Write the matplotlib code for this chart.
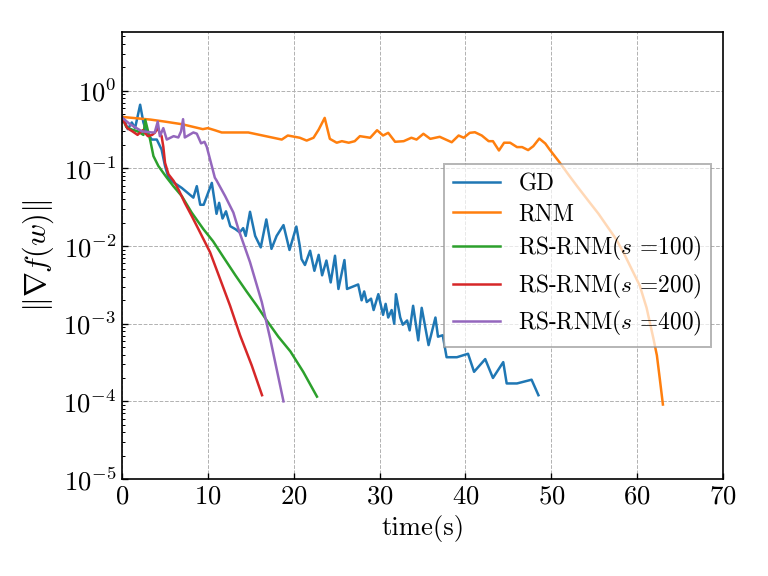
import numpy as np
import matplotlib
matplotlib.use("Agg")
import matplotlib.pyplot as plt

plt.rcParams["font.family"] = "serif"
plt.rcParams["font.serif"] = ["cmr10"]
plt.rcParams["mathtext.fontset"] = "cm"
plt.rcParams["axes.formatter.use_mathtext"] = True

# values
gd_t = [0, 0.15, 0.66, 1.13, 1.51, 2.1, 2.48, 2.88, 3.46, 4.04, 4.6, 5.0, 5.4, 6.0, 6.95,
        8.3, 8.7, 9.1, 9.5, 10.45, 11.0, 11.3, 11.7, 12.1, 12.6, 13.2, 13.7, 14.1, 14.4,
        14.9, 15.5, 16.15, 16.8, 17.4, 18.0, 18.8, 19.5, 20.3, 20.7, 20.9, 21.3, 21.9,
        22.4, 22.9, 23.3, 23.8, 24.3, 24.8, 25.2, 25.9, 26.2, 27.5, 27.9, 28.2, 28.5,
        29.0, 29.3, 29.85, 30.4, 30.7, 31.0, 31.4, 31.7, 31.9, 32.4, 32.7, 33.2, 33.5,
        33.9, 34.5, 34.9, 35.7, 36.5, 36.8, 37.35, 37.8, 39.0, 40.3, 41.0, 42.3, 43.2,
        44.4, 44.8, 46.0, 47.7, 48.5]
gd_g = [0.47, 0.45, 0.32, 0.39, 0.33, 0.66, 0.39, 0.29, 0.235, 0.235, 0.175, 0.107, 0.076,
        0.066, 0.056, 0.042, 0.059, 0.034, 0.034, 0.065, 0.026, 0.036, 0.0226, 0.028,
        0.018, 0.0165, 0.015, 0.017, 0.0135, 0.0276, 0.0135, 0.0096, 0.022, 0.0092,
        0.0135, 0.0186, 0.0089, 0.0178, 0.010, 0.0068, 0.0057, 0.0087, 0.0048, 0.0077,
        0.0042, 0.0065, 0.0034, 0.0075, 0.0028, 0.0066, 0.0028, 0.0032, 0.0020, 0.0026,
        0.0019, 0.0021, 0.0015, 0.0024, 0.0013, 0.0018, 0.0012, 0.0015, 0.0010, 0.0024,
        0.0012, 0.00097, 0.0011, 0.00082, 0.0017, 0.00061, 0.0016, 0.00053, 0.0012,
        0.00068, 0.00071, 0.00037, 0.00037, 0.00041, 0.00024, 0.00035, 0.00020, 0.00032,
        0.00017, 0.00017, 0.00019, 0.00012]

rnm_t = [0, 3.3, 5.0, 7.0, 9.4, 10.0, 10.8, 11.6, 14.7, 18.6, 19.3, 20.7, 21.5, 22.3,
         22.9, 23.6, 24.2, 25.0, 25.6, 26.4, 27.1, 27.7, 28.9, 29.7, 30.4, 31.0, 31.8,
         32.8, 33.7, 34.3, 35.1, 35.9, 37.0, 38.4, 39.2, 39.8, 40.5, 41.1, 41.9, 42.7,
         43.2, 43.9, 44.5, 45.2, 46.0, 46.6, 47.3, 47.9, 48.6, 49.3, 49.8, 51.0, 52.0,
         53.0, 54.5, 55.5, 56.5, 57.5, 58.4, 59.3, 60.3, 61.1, 61.9, 62.3, 62.65, 63.0]
rnm_g = [0.46, 0.425, 0.40, 0.37, 0.32, 0.33, 0.31, 0.29, 0.29, 0.235, 0.265, 0.248,
         0.228, 0.248, 0.316, 0.447, 0.24, 0.214, 0.224, 0.214, 0.224, 0.26, 0.248, 0.31,
         0.265, 0.287, 0.22, 0.224, 0.248, 0.235, 0.279, 0.24, 0.255, 0.217, 0.265,
         0.248, 0.287, 0.292, 0.265, 0.224, 0.224, 0.17, 0.214, 0.214, 0.188, 0.188,
         0.172, 0.193, 0.242, 0.209, 0.175, 0.118, 0.083, 0.059, 0.036, 0.026, 0.018,
         0.0125, 0.0083, 0.0052, 0.0031, 0.0016, 0.00064, 0.00039, 0.00019, 0.000091]

s100_t = [0, 0.5, 1.13, 1.8, 2.48, 2.7, 3.26, 3.65, 4.23, 5.2, 5.97, 6.95, 8.1, 9.47,
          10.6, 11.8, 13.2, 14.5, 15.7, 16.85, 18.2, 19.6, 21.1, 22.7]
s100_g = [0.45, 0.34, 0.316, 0.30, 0.27, 0.42, 0.235, 0.144, 0.107, 0.076, 0.059, 0.044,
          0.027, 0.0165, 0.0115, 0.0072, 0.0042, 0.0026, 0.0017, 0.0011, 0.00068, 0.00044,
          0.00024, 0.000115]

s200_t = [0, 0.6, 1.2, 1.8, 2.4, 3.0, 3.5, 3.84, 4.1, 4.6, 4.8, 5.0, 5.4, 6.0, 6.55, 7.3,
          8.1, 8.89, 10.25, 11.4, 12.58, 13.74, 15.1, 16.3]
s200_g = [0.45, 0.33, 0.30, 0.27, 0.31, 0.26, 0.27, 0.29, 0.33, 0.26, 0.19, 0.118, 0.084,
          0.069, 0.054, 0.036, 0.0245, 0.0165, 0.0083, 0.0038, 0.0017, 0.00071, 0.00029,
          0.00012]

s400_t = [0, 0.93, 2.3, 3.46, 3.8, 4.15, 4.4, 4.8, 5.2, 6.0, 6.55, 6.87, 7.1, 7.3, 8.3,
          8.7, 9.2, 9.6, 9.86, 10.45, 10.8, 11.0, 12.0, 12.96, 13.55, 14.9, 16.27, 17.24,
          18.8]
s400_g = [0.45, 0.37, 0.30, 0.29, 0.29, 0.40, 0.26, 0.33, 0.235, 0.26, 0.25, 0.30, 0.43,
          0.25, 0.29, 0.28, 0.21, 0.22, 0.19, 0.107, 0.076, 0.07, 0.044, 0.027, 0.0165,
          0.0062, 0.0019, 0.00065, 0.0001]

series = [
    (gd_t, gd_g, "GD", "tab:blue"),
    (rnm_t, rnm_g, "RNM", "tab:orange"),
    (s100_t, s100_g, r"RS-RNM($s$ =100)", "tab:green"),
    (s200_t, s200_g, r"RS-RNM($s$ =200)", "tab:red"),
    (s400_t, s400_g, r"RS-RNM($s$ =400)", "tab:purple"),
]

fig, ax = plt.subplots(figsize=(6.4, 4.8), dpi=120)
fig.subplots_adjust(left=0.159, right=0.9414, top=0.9444, bottom=0.1684)

for t, g, lab, c in series:
    ax.plot(t, g, color=c, lw=1.5, label=lab)

ax.set_yscale("log")
ax.set_xlim(0, 70)
ax.set_ylim(1e-5, 5.7)
ax.set_xticks(np.arange(0, 71, 10))
ax.set_yticks([1e-5, 1e-4, 1e-3, 1e-2, 1e-1, 1e0])
ax.tick_params(which="both", direction="in", labelsize=16)
ax.tick_params(axis="x", which="minor", bottom=False)
ax.grid(True, which="major", linestyle="--", color="0.7", lw=0.6)
for sp in ax.spines.values():
    sp.set_linewidth(1.0)

ax.set_xlabel("time(s)", fontsize=16)
ax.set_ylabel(r"$\|\nabla f(w)\|$", fontsize=18)

leg = ax.legend(loc="center right", fontsize=14, fancybox=False, framealpha=0.7,
                edgecolor="0.6", borderpad=0.4, labelspacing=0.36)
leg.get_frame().set_linewidth(1.2)

plt.savefig("out.png", dpi=120)
